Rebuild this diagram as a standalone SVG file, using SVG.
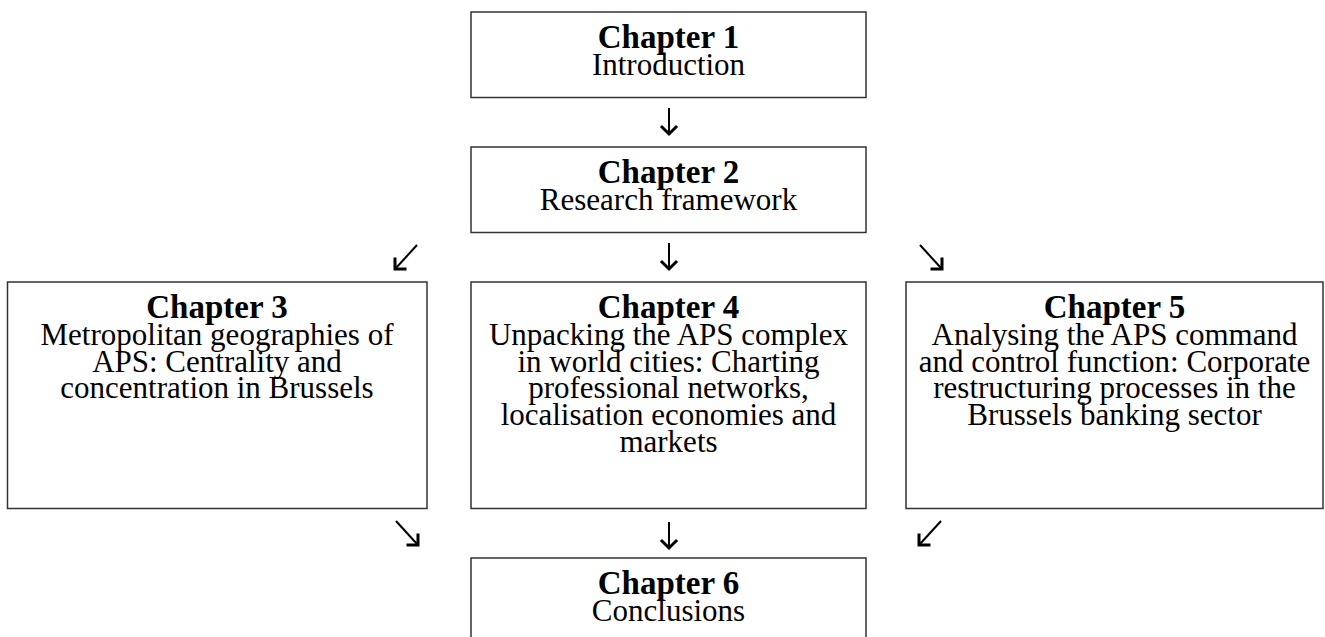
<svg xmlns="http://www.w3.org/2000/svg" width="1325" height="637" viewBox="0 0 1325 637">
  <style>
    .box { fill: #ffffff; stroke: #333333; stroke-width: 1.5; }
    .title { font-family: "Liberation Serif", "Times New Roman", serif; font-weight: bold; font-size: 33px; fill: #000; text-anchor: middle; }
    .body { font-family: "Liberation Serif", "Times New Roman", serif; font-size: 31px; fill: #000; text-anchor: middle; }
    .shaft { stroke: #000; stroke-width: 2; fill: none; }
    .head { stroke: #000; stroke-width: 3; fill: none; stroke-linecap: square; }
  </style>
  <rect width="1325" height="637" fill="#ffffff"/>

  <g id="ch1">
    <rect class="box" x="471" y="12" width="395" height="85.5"/>
    <text class="title" x="668.5" y="48">Chapter 1</text>
    <text class="body" x="668.5" y="75">Introduction</text>
  </g>

  <g id="ch2">
    <rect class="box" x="471" y="147" width="395" height="85.5"/>
    <text class="title" x="668.5" y="183">Chapter 2</text>
    <text class="body" x="668.5" y="210">Research framework</text>
  </g>

  <g id="ch3">
    <rect class="box" x="7.5" y="282" width="419.5" height="226.5"/>
    <text class="title" x="217" y="318">Chapter 3</text>
    <text class="body" x="217" y="345">Metropolitan geographies of</text>
    <text class="body" x="217" y="372">APS: Centrality and</text>
    <text class="body" x="217" y="398">concentration in Brussels</text>
  </g>

  <g id="ch4">
    <rect class="box" x="471" y="282" width="395" height="226.5"/>
    <text class="title" x="668.5" y="318">Chapter 4</text>
    <text class="body" x="668.5" y="345">Unpacking the APS complex</text>
    <text class="body" x="668.5" y="372">in world cities: Charting</text>
    <text class="body" x="668.5" y="398">professional networks,</text>
    <text class="body" x="668.5" y="425">localisation economies and</text>
    <text class="body" x="668.5" y="452">markets</text>
  </g>

  <g id="ch5">
    <rect class="box" x="906" y="282" width="417" height="226.5"/>
    <text class="title" x="1114.5" y="318">Chapter 5</text>
    <text class="body" x="1114.5" y="345">Analysing the APS command</text>
    <text class="body" x="1114.5" y="372">and control function: Corporate</text>
    <text class="body" x="1114.5" y="398">restructuring processes in the</text>
    <text class="body" x="1114.5" y="425">Brussels banking sector</text>
  </g>

  <g id="ch6">
    <rect class="box" x="471" y="558" width="395" height="100"/>
    <text class="title" x="668.5" y="594">Chapter 6</text>
    <text class="body" x="668.5" y="621">Conclusions</text>
  </g>

  <g id="connectors">
    <!-- ch1 to ch2 -->
    <path class="shaft" d="M669 108 V133"/>
    <path class="head" d="M662 127 L669 134 L676 127"/>
    <!-- ch2 to ch4 -->
    <path class="shaft" d="M669 243 V268"/>
    <path class="head" d="M662 262 L669 269 L676 262"/>
    <!-- ch2 to ch3 -->
    <path class="shaft" d="M417 245 L396 268"/>
    <path class="head" d="M395 259 V269 H405"/>
    <!-- ch2 to ch5 -->
    <path class="shaft" d="M920 245 L941 268"/>
    <path class="head" d="M942 259 V269 H932"/>
    <!-- ch4 to ch6 -->
    <path class="shaft" d="M669 522 V547"/>
    <path class="head" d="M662 541 L669 548 L676 541"/>
    <!-- ch3 to ch6 -->
    <path class="shaft" d="M396 521 L417 544"/>
    <path class="head" d="M418 535 V545 H408"/>
    <!-- ch5 to ch6 -->
    <path class="shaft" d="M941 521 L920 544"/>
    <path class="head" d="M919 535 V545 H929"/>
  </g>
</svg>
